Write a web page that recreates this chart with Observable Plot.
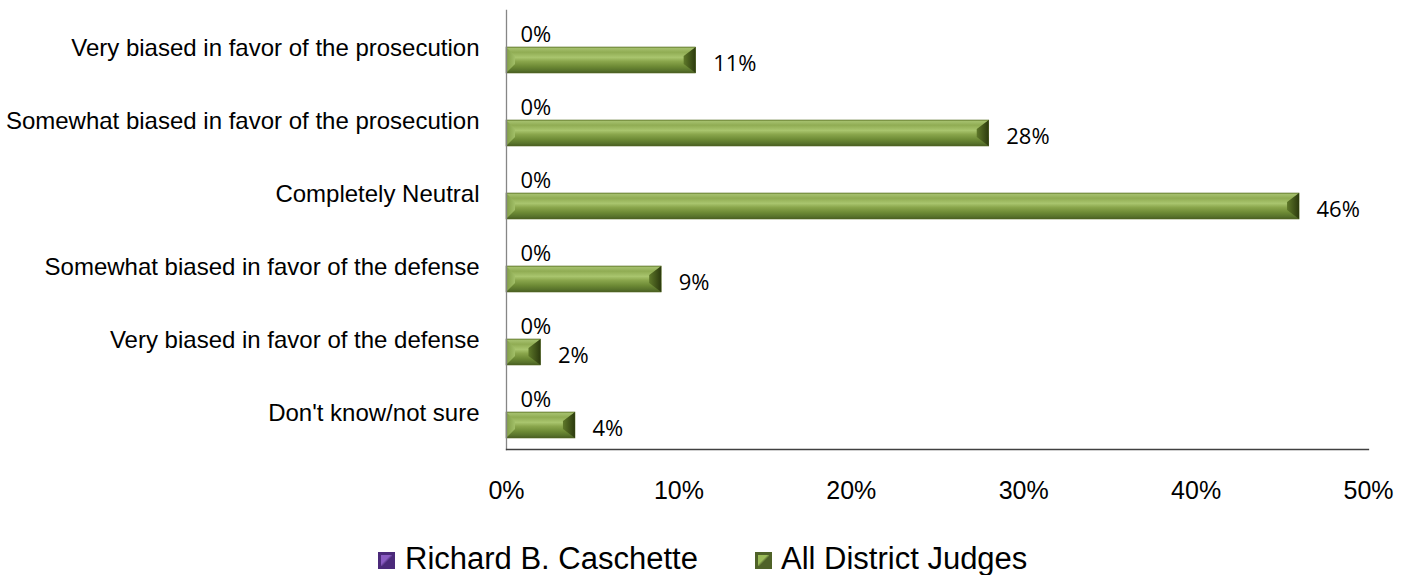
<!DOCTYPE html>
<html>
<head>
<meta charset="utf-8">
<script src="https://cdn.jsdelivr.net/npm/d3@7"></script>
<script src="https://cdn.jsdelivr.net/npm/@observablehq/plot@0.6"></script>
<style>
  html, body { margin: 0; padding: 0; background: #fff; }
  #wrap { position: relative; width: 1411px; height: 575px; overflow: hidden; }
  #legend { position: absolute; left: 0; top: 539px; height: 40px; line-height: 40px;
    font-family: "Liberation Sans", Arial, sans-serif; font-size: 31px; color: #000; white-space: nowrap; }
  .item { position: absolute; top: 0; }
  .sw { position: absolute; top: 13px; width: 17px; height: 17px; }
</style>
</head>
<body>
<div id="wrap">
  <div id="chart"></div>
  <div id="legend"></div>
</div>
<script>
const categories = [
  "Very biased in favor of the prosecution",
  "Somewhat biased in favor of the prosecution",
  "Completely Neutral",
  "Somewhat biased in favor of the defense",
  "Very biased in favor of the defense",
  "Don't know/not sure"
];
const seriesNames = ["Richard B. Caschette", "All District Judges"];
const caschette = [0, 0, 0, 0, 0, 0];
const allJudges = [11, 28, 46, 9, 2, 4];
const xTicks = [0, 10, 20, 30, 40, 50];

const dataC = categories.map((c, i) => ({category: c, value: caschette[i]}));
const dataA = categories.map((c, i) => ({category: c, value: allJudges[i]}));

const plot = Plot.plot({
  width: 1411,
  height: 520,
  marginLeft: 506,
  marginRight: 43,
  marginTop: 10,
  marginBottom: 71,
  style: {fontFamily: "'Liberation Sans', Arial, sans-serif", color: "#000", background: "#fff"},
  x: {domain: [0, 50], ticks: xTicks, tickFormat: d => d + "%"},
  y: {domain: categories, padding: 0},
  marks: [
    Plot.barX(dataC, {x: "value", y: "category", fill: "#6a3d9a", insetTop: 10, insetBottom: 37}),
    Plot.barX(dataA, {x: "value", y: "category", fill: "url(#gGreen)", stroke: "#5a7028", strokeWidth: 0.6, insetTop: 36, insetBottom: 11}),
    Plot.text(dataC, {x: "value", y: "category", text: d => d.value + "%", dx: 14, dy: -13, textAnchor: "start",
      fontFamily: "'Open Sans', sans-serif", fontSize: 22, fill: "#000"}),
    Plot.text(dataA, {x: "value", y: "category", text: d => d.value + "%", dx: 17, dy: 15.5, textAnchor: "start",
      fontFamily: "'Open Sans', sans-serif", fontSize: 22, fill: "#000"}),
    Plot.frame({anchor: "left", stroke: "#868686", strokeWidth: 1.3}),
    Plot.frame({anchor: "bottom", stroke: "#404040", strokeWidth: 1.3}),
    Plot.axisX({ticks: xTicks, tickFormat: d => d + "%", tickSize: 0, tickPadding: 32, fontSize: 25, label: null}),
    Plot.axisY({tickSize: 0, tickPadding: 27, fontSize: 24, label: null})
  ]
});

document.getElementById("chart").appendChild(plot);

// gradient defs for bevel look
const svg = d3.select(plot);
const defs = svg.insert("defs", ":first-child");
const g = defs.append("linearGradient").attr("id", "gGreen").attr("x1", 0).attr("y1", 0).attr("x2", 0).attr("y2", 1);
[[0, "#7e9a45"], [0.06, "#a4bf6c"], [0.2, "#90ac53"], [0.4, "#a9c56e"], [0.55, "#8aa64c"], [0.75, "#6d8a35"], [0.92, "#56702a"], [1, "#45591f"]]
  .forEach(([o, c]) => g.append("stop").attr("offset", o).attr("stop-color", c));
const gr = defs.append("linearGradient").attr("id", "gRight").attr("x1", 1).attr("y1", 0).attr("x2", 0).attr("y2", 0);
[[0, "#2c3a0e"], [1, "#5e7829"]].forEach(([o, c]) => gr.append("stop").attr("offset", o).attr("stop-color", c));
const gl = defs.append("linearGradient").attr("id", "gLeft").attr("x1", 0).attr("y1", 0).attr("x2", 1).attr("y2", 0);
[[0, "#7f9c44"], [1, "#a2bf68"]].forEach(([o, c]) => gl.append("stop").attr("offset", o).attr("stop-color", c));

// end bevels on green bars
const greenRects = svg.selectAll("rect").filter(function() {
  const own = this.getAttribute("fill") || "";
  const par = this.parentNode && this.parentNode.getAttribute ? (this.parentNode.getAttribute("fill") || "") : "";
  return own.includes("gGreen") || par.includes("gGreen");
});
greenRects.each(function() {
  const r = d3.select(this);
  const x1 = +r.attr("x"), y1 = +r.attr("y"), w = +r.attr("width"), h = +r.attr("height");
  if (!(w > 0)) return;
  const x2 = x1 + w, y2 = y1 + h, b = Math.min(12, w / 2);
  const parent = d3.select(this.parentNode);
  parent.append("polygon")
    .attr("points", `${x2},${y1} ${x2 - b},${y1 + 9} ${x2 - b},${y2 - 9} ${x2},${y2}`)
    .attr("fill", "url(#gRight)").attr("stroke", "none");
  parent.append("polygon")
    .attr("points", `${x1},${y1} ${x1 + 9},${y1 + 9} ${x1 + 9},${y2 - 9} ${x1},${y2}`)
    .attr("fill", "url(#gLeft)").attr("stroke", "none");
});

// legend
const legend = document.getElementById("legend");
const items = [
  {name: seriesNames[0], sw: 378, tx: 405, c1: "#8a5cc2", c2: "#4b2a7a"},
  {name: seriesNames[1], sw: 755, tx: 781, c1: "#9bbb59", c2: "#4f6228"}
];
items.forEach(it => {
  const s = document.createElement("div");
  s.className = "sw";
  s.style.left = it.sw + "px";
  s.style.background = `linear-gradient(135deg, ${it.c1} 0%, ${it.c1} 45%, ${it.c2} 55%, ${it.c2} 100%)`;
  s.style.boxShadow = `inset 0 0 0 3px ${it.c2}`;
  legend.appendChild(s);
  const t = document.createElement("div");
  t.className = "item";
  t.style.left = it.tx + "px";
  t.textContent = it.name;
  legend.appendChild(t);
});
</script>
</body>
</html>
